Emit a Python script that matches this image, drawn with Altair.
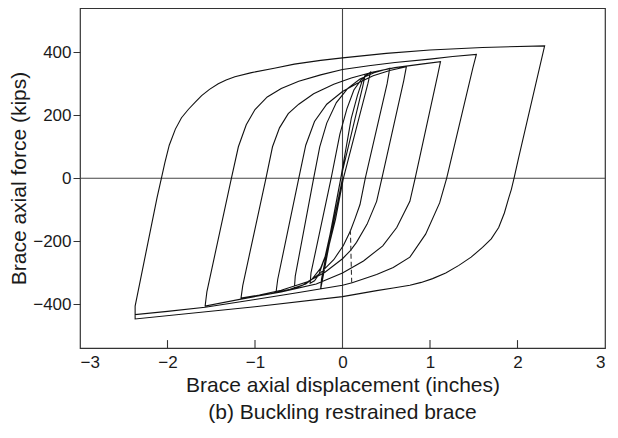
import altair as alt
import pandas as pd

# ---- data (x = displacement in inches, y = force in kips) ----
init = [(0.0, 0), (-0.12, -165), (-0.25, -352)]
up1 = [(-0.25, -352), (-0.24, -320), (-0.02, 0), (0.1, 190), (0.17, 262), (0.22, 305), (0.26, 328)]
dn1 = [(0.26, 328), (0.23, 290), (-0.02, 0), (-0.12, -150), (-0.2, -250), (-0.27, -305), (-0.32, -325), (-0.37, -333)]
up2 = [(-0.37, -333), (-0.36, -300), (-0.13, 0), (-0.03, 140), (0.05, 220), (0.13, 280), (0.22, 315), (0.32, 337)]
dn2 = [(0.32, 337), (0.29, 300), (0.01, 0), (-0.08, -130), (-0.16, -220), (-0.25, -285), (-0.35, -320), (-0.45, -338), (-0.55, -349)]
up3 = [(-0.55, -349), (-0.54, -310), (-0.33, 0), (-0.26, 100), (-0.18, 175), (-0.07, 240), (0.06, 285), (0.2, 315), (0.36, 335), (0.54, 349)]
dn3 = [(0.54, 349), (0.51, 300), (0.26, 0), (0.2, -83), (0.14, -130), (0.09, -167), (0.01, -213), (-0.1, -258), (-0.25, -300), (-0.42, -335), (-0.6, -352), (-0.76, -362)]
up4 = [(-0.76, -362), (-0.74, -320), (-0.5, 0), (-0.42, 105), (-0.32, 180), (-0.18, 235), (0.0, 275), (0.16, 300), (0.35, 325), (0.54, 342), (0.73, 354)]
dn4 = [(0.73, 354), (0.70, 310), (0.45, 0), (0.39, -73), (0.28, -146), (0.16, -203), (0.09, -229), (0.0, -255), (-0.2, -298), (-0.4, -328), (-0.7, -355), (-0.95, -370), (-1.16, -380)]
up5 = [(-1.16, -380), (-1.14, -340), (-0.875, 0), (-0.8, 100), (-0.72, 160), (-0.62, 205), (-0.5, 235), (-0.33, 268), (-0.1, 298), (0.1, 318), (0.35, 337), (0.6, 351), (0.9, 362), (1.12, 370)]
dn5 = [(1.12, 370), (1.09, 330), (0.83, 0), (0.77, -73), (0.62, -156), (0.46, -214), (0.24, -262), (0.0, -300), (-0.3, -335), (-0.7, -360), (-1.16, -383), (-1.57, -405)]
up6 = [(-1.57, -405), (-1.55, -360), (-1.27, 0), (-1.19, 100), (-1.1, 170), (-1.0, 218), (-0.86, 258), (-0.7, 285), (-0.5, 308), (-0.25, 328), (0.0, 345), (0.3, 357), (0.6, 367), (1.0, 378), (1.26, 386), (1.53, 393)]
dn6 = [(1.53, 393), (1.49, 350), (1.19, 0), (1.11, -78), (0.95, -177), (0.77, -250), (0.58, -283), (0.39, -305), (0.11, -331), (0.0, -339), (-0.5, -362), (-1.0, -384), (-1.57, -409), (-2.0, -422), (-2.37, -432)]
up7 = [(-2.37, -432), (-2.37, -405), (-2.12, -62), (-2.07, 0), (-2.03, 50), (-1.98, 105), (-1.91, 156), (-1.84, 192), (-1.76, 219), (-1.68, 242), (-1.61, 262), (-1.52, 282), (-1.42, 300), (-1.33, 312), (-1.23, 322), (-1.04, 335), (-0.78, 349), (-0.55, 362), (-0.25, 374), (0.0, 382), (0.5, 396), (1.0, 407), (1.6, 415), (2.31, 420)]
dn7 = [(2.31, 420), (2.01, 62), (1.96, 0), (1.93, -35), (1.90, -62), (1.85, -110), (1.785, -156), (1.70, -192), (1.60, -219), (1.47, -250), (1.33, -276), (1.18, -300), (1.03, -318), (0.9, -330), (0.77, -339), (0.58, -348), (0.39, -356), (0.0, -375), (-1.0, -407), (-2.37, -446), (-2.37, -432)]
dashed = [(0.09, -163), (0.105, -331)]

branches = [init, up1, dn1, up2, dn2, up3, dn3, up4, dn4, up5, dn5, up6, dn6, up7, dn7]

x_ticks = [-3, -2, -1, 0, 1, 2, 3]
x_inner_ticks = [-2, -1, 1, 2]
y_ticks = [-400, -200, 0, 200, 400]
x_domain = [-3, 3]
y_domain = [-538, 540]

# ---- build tables ----
pts = []
for bi, br in enumerate(branches):
    seg = br if bi == 0 else br[1:]
    pts.extend(seg)
path_df = pd.DataFrame({"x": [p[0] for p in pts], "y": [p[1] for p in pts], "i": list(range(len(pts)))})
dash_df = pd.DataFrame({"x": [p[0] for p in dashed], "y": [p[1] for p in dashed], "i": [0, 1]})
tick_df = pd.DataFrame({"x": x_inner_ticks, "y": [y_domain[0]] * 4, "y2": [y_domain[0] + 25] * 4})
zero_df = pd.DataFrame({"v": [0]})

FONT = "Liberation Sans"
INK = "#1a1a1a"

xs = alt.Scale(domain=x_domain, nice=False, zero=False)
ys = alt.Scale(domain=y_domain, nice=False, zero=False)

x_axis = alt.Axis(values=x_ticks, format="d", ticks=False, tickSize=0, domain=False, grid=False,
                  labelFontSize=17, labelPadding=6, labelColor=INK,
                  title="Brace axial displacement (inches)", titleFontSize=21,
                  titleFontWeight="normal", titlePadding=4, titleColor=INK)
y_axis = alt.Axis(values=y_ticks, format="d", tickSize=7, tickColor="#333", domain=False, grid=False,
                  labelFontSize=17, labelPadding=2, labelColor=INK,
                  title="Brace axial force (kips)", titleFontSize=21,
                  titleFontWeight="normal", titlePadding=3, titleColor=INK)

base = alt.Chart(path_df)

curves = base.mark_line(color="#111", strokeWidth=1.1).encode(
    x=alt.X("x:Q", scale=xs, axis=x_axis),
    y=alt.Y("y:Q", scale=ys, axis=y_axis),
    order="i:O",
)

dash = alt.Chart(dash_df).mark_line(color="#333", strokeWidth=1.1, strokeDash=[5, 3]).encode(
    x=alt.X("x:Q", scale=xs), y=alt.Y("y:Q", scale=ys), order="i:O"
)

zero_v = alt.Chart(zero_df).mark_rule(color="#444", strokeWidth=1.1).encode(x=alt.X("v:Q", scale=xs))
zero_h = alt.Chart(zero_df).mark_rule(color="#444", strokeWidth=1.1).encode(y=alt.Y("v:Q", scale=ys))

inner_ticks = alt.Chart(tick_df).mark_rule(color="#333", strokeWidth=1.1).encode(
    x=alt.X("x:Q", scale=xs), y=alt.Y("y:Q", scale=ys), y2="y2:Q"
)

chart = alt.layer(zero_v, zero_h, inner_ticks, curves, dash).properties(
    width=525,
    height=340,
    autosize=alt.AutoSizeParams(type="none"),
    padding={"left": 72, "top": 0, "right": 5, "bottom": 78},
    title=alt.TitleParams("(b) Buckling restrained brace", orient="bottom", fontSize=21,
                          fontWeight="normal", offset=7, color=INK, anchor="middle",
                          frame="group", font=FONT),
).configure(font=FONT).configure_view(stroke="#333", strokeWidth=1.2)

chart.save("out.html", embed_options={"renderer": "svg", "actions": False})
